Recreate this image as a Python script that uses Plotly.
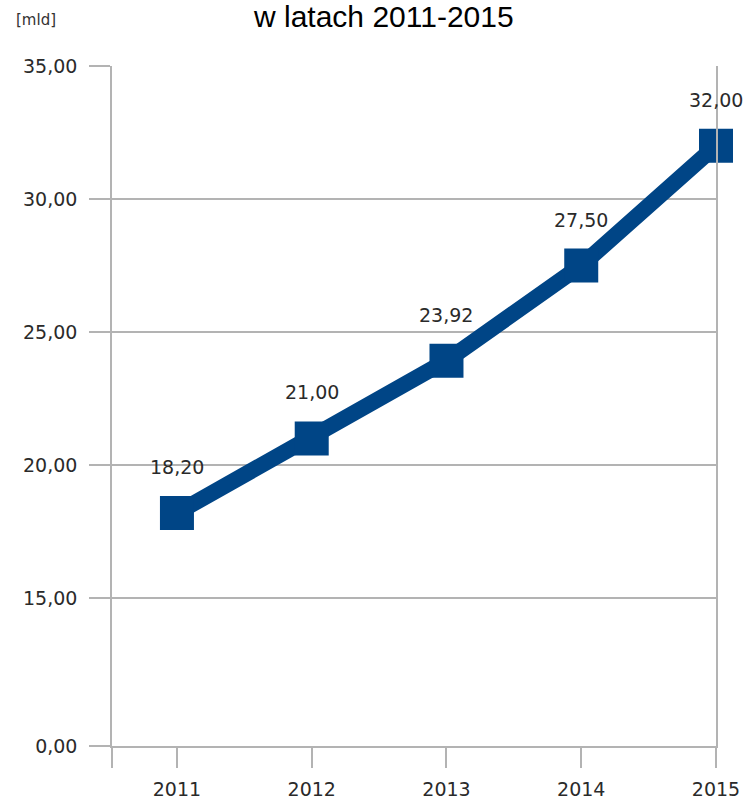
import plotly.graph_objects as go

years = [2011, 2012, 2013, 2014, 2015]
values = [18.20, 21.00, 23.92, 27.50, 32.00]
y_tick_values = [0, 15, 20, 25, 30, 35]
title_text = "w latach 2011-2015"
unit_label = "[mld]"

# The original chart's value axis is visually broken between 0 and 15:
# the "0,00" gridline sits only a short distance below "15,00".
BREAK_POS = 9.436
X_LEFT = 2010.518
X_RIGHT = 2015.0

def fmt(v):
    return f"{v:.2f}".replace(".", ",")

tick_pos = [BREAK_POS if v == 0 else v for v in y_tick_values]
tick_txt = [fmt(v) for v in y_tick_values]

BLUE = "#004586"
GRID = "#b3b3b3"
TXT = "#2a2a2a"
FONT = "DejaVu Sans"

fig = go.Figure()
fig.add_trace(go.Scatter(
    x=years, y=values, mode="lines+markers",
    line=dict(color=BLUE, width=16),
    marker=dict(symbol="square", size=34, color=BLUE),
    cliponaxis=False, showlegend=False, hoverinfo="skip",
))

for xv, yv in zip(years, values):
    fig.add_annotation(x=xv, y=yv, text=fmt(yv), showarrow=False,
                       xanchor="center", yanchor="middle", yshift=46,
                       font=dict(family=FONT, size=19, color=TXT))

fig.add_annotation(xref="paper", yref="paper", x=-0.126, y=1.0, yshift=46,
                   text=unit_label, showarrow=False, xanchor="center", yanchor="middle",
                   font=dict(family=FONT, size=15, color="#333333"))
fig.add_annotation(xref="paper", yref="paper", x=0.449, y=1.0, yshift=50,
                   text=title_text, showarrow=False, xanchor="center", yanchor="middle",
                   font=dict(family="Liberation Sans", size=30, color="#000000"))

fig.update_layout(
    width=752, height=803,
    margin=dict(l=112, r=36, t=66, b=57, autoexpand=False),
    paper_bgcolor="white", plot_bgcolor="white",
    xaxis=dict(
        range=[X_LEFT, X_RIGHT], automargin=False,
        tickvals=[X_LEFT + 0.001] + years,
        ticktext=[""] + [str(y) for y in years],
        ticks="outside", ticklen=20, tickwidth=1.5, tickcolor=GRID,
        showgrid=False, zeroline=False,
        showline=True, linecolor=GRID, linewidth=1.5,
        tickfont=dict(family=FONT, size=19, color=TXT),
        ticklabelstandoff=5,
    ),
    yaxis=dict(
        range=[BREAK_POS, 35], automargin=False,
        tickvals=tick_pos, ticktext=tick_txt,
        ticks="outside", ticklen=21, tickwidth=1.5, tickcolor=GRID,
        showgrid=True, gridcolor=GRID, gridwidth=1.5, zeroline=False,
        showline=True, linecolor=GRID, linewidth=1.5, mirror=True,
        tickfont=dict(family=FONT, size=19, color=TXT),
        ticklabelstandoff=8,
    ),
)

fig.write_html("out.html")
